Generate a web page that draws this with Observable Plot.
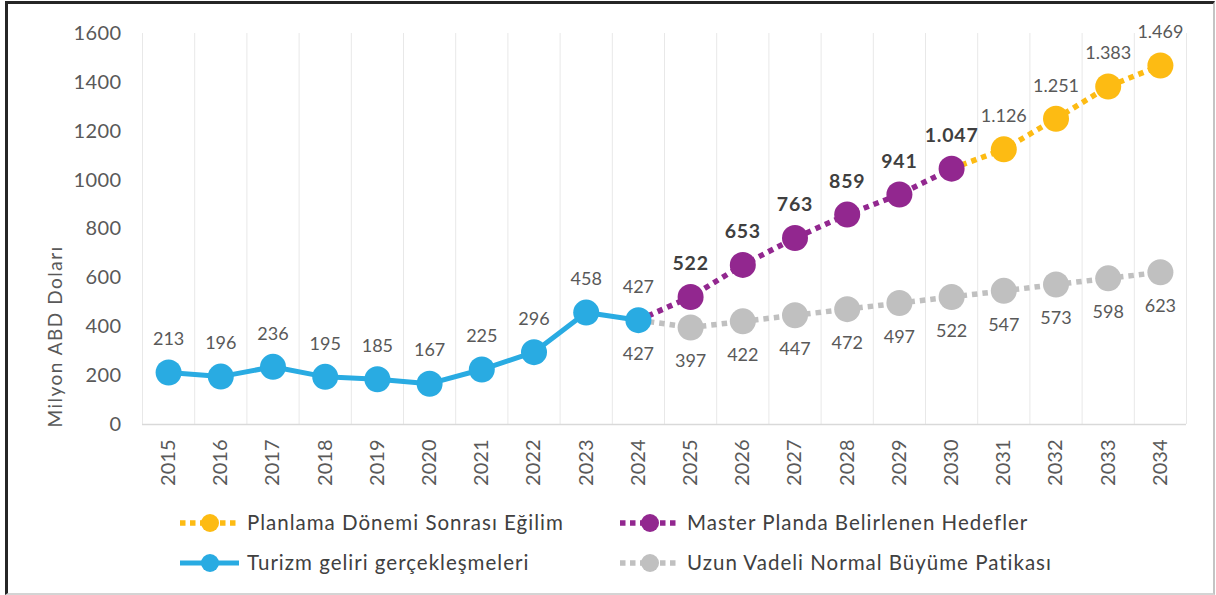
<!DOCTYPE html>
<html>
<head>
<meta charset="utf-8">
<script src="https://cdn.jsdelivr.net/npm/d3@7"></script>
<script src="https://cdn.jsdelivr.net/npm/@observablehq/plot@0.6"></script>
<style>
  html, body { margin: 0; padding: 0; background: #ffffff; }
  body { width: 1216px; height: 595px; position: relative; overflow: hidden; font-family: Lato, "Open Sans", sans-serif; }
  #frame { position: absolute; left: 5px; top: 1px; width: 1210px; height: 594px; box-sizing: border-box;
           border-top: 3px solid #262626; border-left: 3px solid #262626; border-right: 2px solid #c4c4c4; border-bottom: 2px solid #d4d4d4; pointer-events: none; }
  #chart { position: absolute; left: 0; top: 0; }
  #legend { position: absolute; left: 0; top: 490px; }
  #chart g[aria-label="y-axis tick label"] text { letter-spacing: 0.4px; }
  #legend text { letter-spacing: 1px; }
</style>
</head>
<body>
<div id="chart"></div>
<div id="legend"></div>
<div id="frame"></div>
<script>
// ---- data ----
const years = [2015, 2016, 2017, 2018, 2019, 2020, 2021, 2022, 2023, 2024, 2025, 2026, 2027, 2028, 2029, 2030, 2031, 2032, 2033, 2034];
const actualYears = [2015, 2016, 2017, 2018, 2019, 2020, 2021, 2022, 2023, 2024];
const actualValues = [213, 196, 236, 195, 185, 167, 225, 296, 458, 427];
const normalYears = [2024, 2025, 2026, 2027, 2028, 2029, 2030, 2031, 2032, 2033, 2034];
const normalValues = [427, 397, 422, 447, 472, 497, 522, 547, 573, 598, 623];
const targetYears = [2024, 2025, 2026, 2027, 2028, 2029, 2030];
const targetValues = [427, 522, 653, 763, 859, 941, 1047];
const trendYears = [2030, 2031, 2032, 2033, 2034];
const trendValues = [1047, 1126, 1251, 1383, 1469];
const yTicks = [0, 200, 400, 600, 800, 1000, 1200, 1400, 1600];
const yLabel = "Milyon ABD Doları";
const seriesNames = [
  "Planlama Dönemi Sonrası Eğilim",
  "Master Planda Belirlenen Hedefler",
  "Turizm geliri gerçekleşmeleri",
  "Uzun Vadeli Normal Büyüme Patikası"
];

// ---- styles ----
const BLUE = "#29abe2", PURPLE = "#92278f", YELLOW = "#fdbb13", GREY = "#c0c0c0";
const TXT = "#595959";
const trFmt = d3.formatLocale({decimal: ",", thousands: ".", grouping: [3], currency: ["", ""]}).format(",d");

const zip = (xs, vs) => xs.map((x, i) => ({year: x, value: vs[i]}));
const actual = zip(actualYears, actualValues);
const normal = zip(normalYears, normalValues);
const target = zip(targetYears, targetValues);
const trend = zip(trendYears, trendValues);
const boundaries = years.map(y => y - 0.5).concat([years[years.length - 1] + 0.5]);

const dotted = {strokeWidth: 5.5, strokeDasharray: "5.5,5", strokeLinecap: "butt"};
const R = 13;

const chart = Plot.plot({
  width: 1216,
  height: 490,
  marginLeft: 142,
  marginRight: 30,
  marginTop: 33,
  marginBottom: 66,
  style: {fontFamily: "Lato, 'Open Sans', sans-serif", fontSize: "20px", color: TXT, background: "transparent", overflow: "visible"},
  x: {type: "linear", domain: [years[0] - 0.5, years[years.length - 1] + 0.5], ticks: years, tickFormat: d => String(d), tickRotate: -90, tickSize: 0, tickPadding: 15, label: null},
  y: {domain: [0, 1600], ticks: yTicks, tickFormat: d => String(d), tickSize: 0, tickPadding: 21, label: null},
  marks: [
    Plot.ruleX(boundaries, {y1: 0, y2: 1600, stroke: "#e8e8e8", strokeWidth: 1}),
    Plot.ruleY([0], {stroke: "#d9d9d9", strokeWidth: 1.5}),
    Plot.text([yLabel], {frameAnchor: "bottom-left", rotate: -90, dx: -87, dy: 3, textAnchor: "start", lineAnchor: "middle", fontSize: 19, fill: TXT}),
    Plot.line(normal, {x: "year", y: "value", stroke: GREY, ...dotted}),
    Plot.line(target, {x: "year", y: "value", stroke: PURPLE, ...dotted}),
    Plot.line(trend, {x: "year", y: "value", stroke: YELLOW, ...dotted}),
    Plot.dot(normal.slice(1), {x: "year", y: "value", r: R, fill: GREY}),
    Plot.dot(target.slice(1), {x: "year", y: "value", r: R, fill: PURPLE}),
    Plot.dot(trend.slice(1), {x: "year", y: "value", r: R, fill: YELLOW}),
    Plot.line(actual, {x: "year", y: "value", stroke: BLUE, strokeWidth: 5}),
    Plot.dot(actual, {x: "year", y: "value", r: R, fill: BLUE}),
    Plot.text(actual, {x: "year", y: "value", text: d => trFmt(d.value), dy: -33, lineAnchor: "middle", fontSize: 18, fill: TXT}),
    Plot.text(normal, {x: "year", y: "value", text: d => trFmt(d.value), dy: 34, lineAnchor: "middle", fontSize: 18, fill: TXT}),
    Plot.text(target.slice(1), {x: "year", y: "value", text: d => trFmt(d.value), dy: -33, lineAnchor: "middle", fontSize: 19.5, fontWeight: "bold", fill: "#3f3f3f"}),
    Plot.text(trend.slice(1), {x: "year", y: "value", text: d => trFmt(d.value), dy: -33, lineAnchor: "middle", fontSize: 18, fill: TXT})
  ]
});
document.getElementById("chart").append(chart);

// letter spacing to approximate the wider original typeface
d3.select(chart).selectAll("text").each(function () {
  const t = this.textContent;
  if (t === yLabel) this.setAttribute("letter-spacing", "1.5");
  else if (this.closest("g") && this.closest("g").getAttribute("font-weight") === "bold") this.setAttribute("letter-spacing", "0.8");
});

// ---- legend ----
const legendItems = [
  {name: seriesNames[0], color: YELLOW, dashed: true, col: 0, row: 0},
  {name: seriesNames[1], color: PURPLE, dashed: true, col: 1, row: 0},
  {name: seriesNames[2], color: BLUE, dashed: false, col: 0, row: 1},
  {name: seriesNames[3], color: GREY, dashed: true, col: 1, row: 1}
];
const colX = [180, 620], rowY = [33, 73];
const svg = d3.select("#legend").append("svg").attr("width", 1216).attr("height", 105);
legendItems.forEach(it => {
  const x0 = colX[it.col], y0 = rowY[it.row];
  const g = svg.append("g");
  g.append("line").attr("x1", x0).attr("x2", x0 + 59).attr("y1", y0).attr("y2", y0)
    .attr("stroke", it.color).attr("stroke-width", it.dashed ? 5.5 : 5)
    .attr("stroke-dasharray", it.dashed ? "5.5,4.5" : null);
  g.append("circle").attr("cx", x0 + 30).attr("cy", y0).attr("r", 9).attr("fill", it.color);
  g.append("text").attr("x", x0 + 67).attr("y", y0).attr("dy", "0.35em")
    .attr("font-family", "Lato, 'Open Sans', sans-serif").attr("font-size", 20.5).attr("fill", "#404040")
    .text(it.name);
});
</script>
</body>
</html>
